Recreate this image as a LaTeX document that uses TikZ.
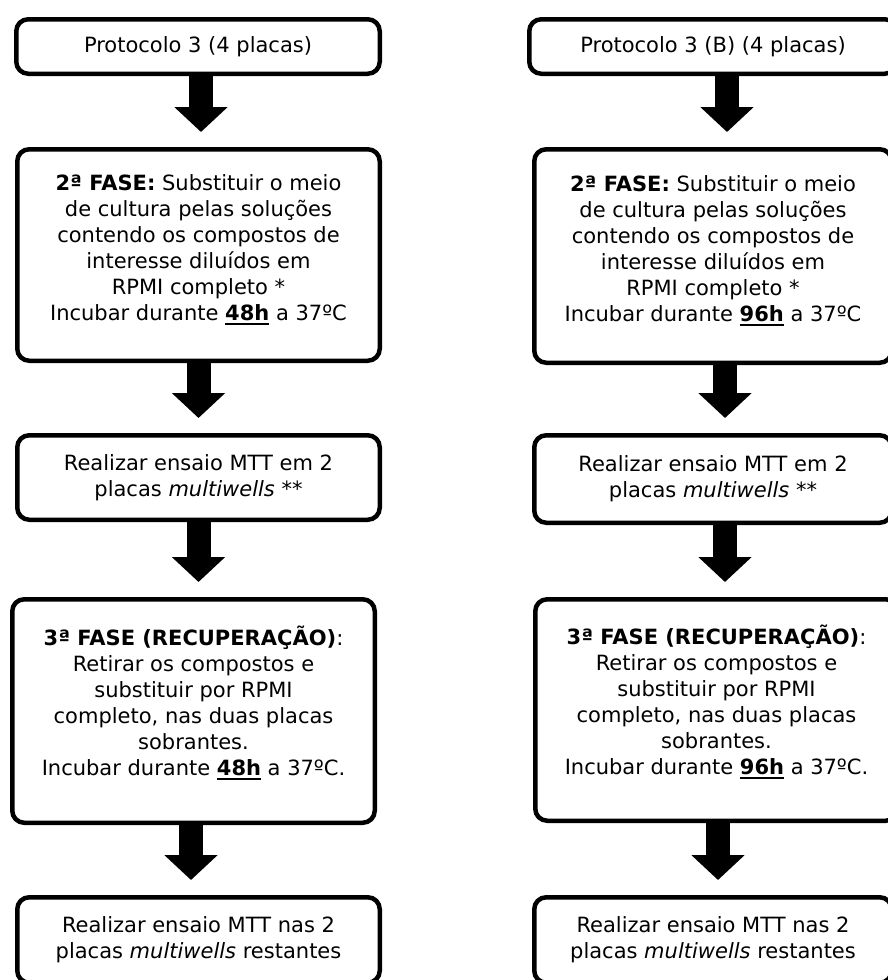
\documentclass[tikz,border=0pt]{standalone}
\usepackage{fontspec}
\setmainfont{DejaVu Sans}
\usetikzlibrary{arrows.meta,calc}

\newcommand{\thickul}[1]{\setbox0\hbox{#1}\rlap{\rule[-4pt]{\wd0}{2pt}}\box0\relax}

\tikzstyle{box}=[draw, line width=4.5pt, rounded corners=12pt, align=center, inner sep=0pt, font=\fontsize{21}{26}\selectfont]
\tikzstyle{flow}=[draw, line width=24pt, -{Triangle[length=25pt,width=52pt]}, shorten >=15pt]

\begin{document}
\begin{tikzpicture}[x=1pt,y=-1pt]
  \useasboundingbox (0,0) rectangle (887,980);

  % 48h
  \node[box, minimum width=363.5pt, minimum height=54.5pt] (l1) at (198,46.5) {Protocolo 3 (4 placas)};
  \node[box, minimum width=362.5pt, minimum height=211.5pt] (l2) at (198.5,255) {\textbf{2ª FASE:} Substituir o meio\\ de cultura pelas soluções\\ contendo os compostos de\\ interesse diluídos em\\ RPMI completo *\\ Incubar durante \thickul{\textbf{48h}} a 37ºC\\[-12pt] \mbox{}};
  \node[box, minimum width=362.5pt, minimum height=84.5pt] (l3) at (198.5,477.5) {Realizar ensaio MTT em 2\\ placas \textit{multiwells} **};
  \node[box, minimum width=362.5pt, minimum height=223.5pt] (l4) at (193.5,711) {\textbf{3ª FASE (RECUPERAÇÃO)}:\\ Retirar os compostos e\\ substituir por RPMI\\ completo, nas duas placas\\ sobrantes.\\ Incubar durante \thickul{\textbf{48h}} a 37ºC.\\[-6pt] \mbox{}};
  \node[box, minimum width=362.5pt, minimum height=85.5pt] (l5) at (198.5,940) {Realizar ensaio MTT nas 2\\ placas \textit{multiwells} restantes};

  % 96h
  \node[box, minimum width=367.5pt, minimum height=54.5pt] (r1) at (713,46.5) {Protocolo 3 (B) (4 placas)};
  \node[box, minimum width=357.5pt, minimum height=213.5pt] (r2) at (713,256) {\textbf{2ª FASE:} Substituir o meio\\ de cultura pelas soluções\\ contendo os compostos de\\ interesse diluídos em\\ RPMI completo *\\ Incubar durante \thickul{\textbf{96h}} a 37ºC\\[-12pt] \mbox{}};
  \node[box, minimum width=357.5pt, minimum height=87.5pt] (r3) at (713,479) {Realizar ensaio MTT em 2\\ placas \textit{multiwells} **};
  \node[box, minimum width=362.5pt, minimum height=221.5pt] (r4) at (716.5,710) {\textbf{3ª FASE (RECUPERAÇÃO)}:\\ Retirar os compostos e\\ substituir por RPMI\\ completo, nas duas placas\\ sobrantes.\\ Incubar durante \thickul{\textbf{96h}} a 37ºC.\\[-6pt] \mbox{}};
  \node[box, minimum width=357.5pt, minimum height=85.5pt] (r5) at (713,940) {Realizar ensaio MTT nas 2\\ placas \textit{multiwells} restantes};

  \foreach \a/\b/\s in {l1/l2/3, l2/l3/0, l3/l4/0, l4/l5/-2.5, r1/r2/14, r2/r3/12, r3/r4/12, r4/r5/1.5} {
    \path[flow] ($(\a.south)+(\s,0)$) -- ($(\a.south |- \b.north)+(\s,0)$);
  }
\end{tikzpicture}
\end{document}
